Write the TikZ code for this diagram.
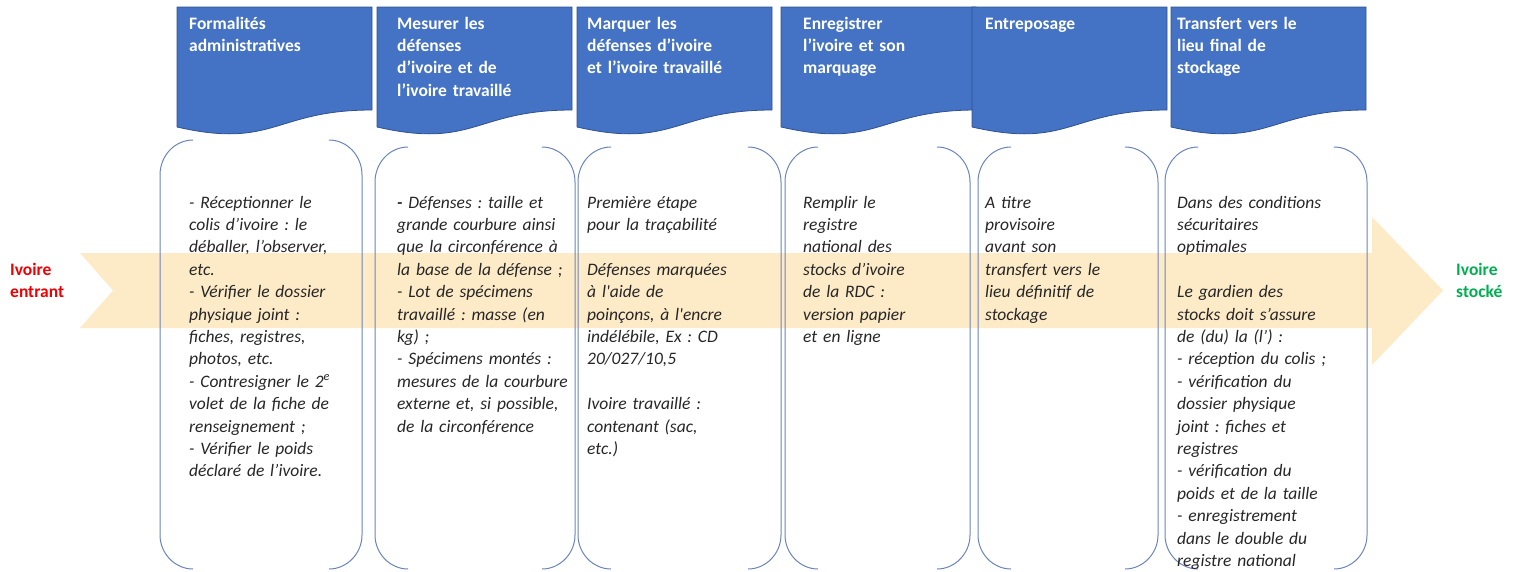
\documentclass[tikz,border=0pt]{standalone}
\usepackage{fontspec}
\setmainfont{Carlito}
\newfontfamily\calib{Carlito}
\frenchspacing
\definecolor{bannerblue}{HTML}{4472C4}
\definecolor{bannerborder}{HTML}{2F528F}
\definecolor{bodyline}{HTML}{6A84BC}
\definecolor{bodytext}{HTML}{262626}
\definecolor{arrowfill}{HTML}{FDEBC8}
\definecolor{inred}{HTML}{F00000}
\definecolor{outgreen}{HTML}{00B050}
\begin{document}
\begin{tikzpicture}[x=1pt,y=-1pt,
  banner/.style={fill=bannerblue, draw=bannerborder, line width=0.8pt},
  bracket/.style={draw=bodyline, line width=1pt},
  hdr/.style={anchor=base west, inner sep=0pt, text width=200pt, align=left, text=white,
    font=\calib\bfseries\fontsize{17.5}{22.4}\selectfont\frenchspacing},
  bodytxt/.style={anchor=base west, inner sep=0pt, text width=250pt, align=left, text=bodytext,
    font=\calib\itshape\fontsize{17.5}{22.4}\selectfont\frenchspacing},
  sidelabel/.style={anchor=base west, inner sep=0pt, text width=80pt, align=left,
    font=\calib\bfseries\fontsize{17.5}{22.4}\selectfont}]
\useasboundingbox (0,0) rectangle (1515,571);
% big arrow
\fill[arrowfill] (80,253) -- (1372,253) -- (1372,217) -- (1443,290.5) -- (1372,365)
  -- (1372,328) -- (80,328) -- (113,290.5) -- cycle;
% banners
\foreach \x in {177,377,577,781,972,1171}{
  \draw[banner] (\x,7) -- (\x+195,7) -- (\x+195,110)
    .. controls +(-97.5,0) and +(97.5,22.3) .. (\x,127) -- cycle;
}
% bracket bodies
\foreach \l/\r/\t in {160/362/140, 375/575/147, 578/781/147, 785/970/147, 978/1158/147, 1165/1367/147}{
  \draw[bracket] (\l+33,\t) .. controls (\l+14.8,\t) and (\l,\t+15.7) .. (\l,\t+35)
    -- (\l,535) .. controls (\l,553.3) and (\l+14.8,569) .. (\l+33,569);
  \draw[bracket] (\r-33,\t) .. controls (\r-14.8,\t) and (\r,\t+15.7) .. (\r,\t+35)
    -- (\r,535) .. controls (\r,553.3) and (\r-14.8,569) .. (\r-33,569);
}
% headers
\node[hdr] (h1) at (189,29) {Formalités\\administratives};
\node[hdr] (h2) at (397,29) {Mesurer les\\défenses\\d’ivoire et de\\l’ivoire travaillé};
\node[hdr] (h3) at (587,29) {Marquer les\\défenses d’ivoire\\et l’ivoire travaillé};
\node[hdr] (h4) at (803,29) {Enregistrer\\l’ivoire et son\\marquage};
\node[hdr] (h5) at (985,29) {Entreposage};
\node[hdr] (h6) at (1177,29) {Transfert vers le\\lieu final de\\stockage};
% body texts
\node[bodytxt] (b1) at (189,208) {- Réceptionner le\\colis d’ivoire : le\\déballer, l’observer,\\etc.\\- Vérifier le dossier\\physique joint :\\fiches, registres,\\photos, etc.\\- Contresigner le 2\textsuperscript{e}\\volet de la fiche de\\renseignement ;\\- Vérifier le poids\\déclaré de l’ivoire.};
\node[bodytxt] (b2) at (397,208) {\textbf{-} Défenses : taille et\\grande courbure ainsi\\que la circonférence à\\la base de la défense ;\\- Lot de spécimens\\travaillé : masse (en\\kg) ;\\- Spécimens montés :\\mesures de la courbure\\externe et, si possible,\\de la circonférence};
\node[bodytxt] (b3) at (587,208) {Première étape\\pour la traçabilité\\[22.4pt]Défenses marquées\\à l'aide de\\poinçons, à l'encre\\indélébile, Ex : CD\\20/027/10,5\\[22.4pt]Ivoire travaillé :\\contenant (sac,\\etc.)};
\node[bodytxt] (b4) at (803,208) {Remplir le\\registre\\national des\\stocks d’ivoire\\de la RDC :\\version papier\\et en ligne};
\node[bodytxt] (b5) at (985,208) {A titre\\provisoire\\avant son\\transfert vers le\\lieu définitif de\\stockage};
\node[bodytxt] (b6) at (1177,208) {Dans des conditions\\sécuritaires\\optimales\\[22.4pt]Le gardien des\\stocks doit s’assure\\de (du) la (l’) :\\- réception du colis ;\\- vérification du\\dossier physique\\joint : fiches et\\registres\\- vérification du\\poids et de la taille\\- enregistrement\\dans le double du\\registre national};
% side labels
\node[sidelabel, text=inred] (in) at (10,275) {Ivoire\\entrant};
\node[sidelabel, text=outgreen] (out) at (1456,275) {Ivoire\\stocké};
\end{tikzpicture}
\end{document}
